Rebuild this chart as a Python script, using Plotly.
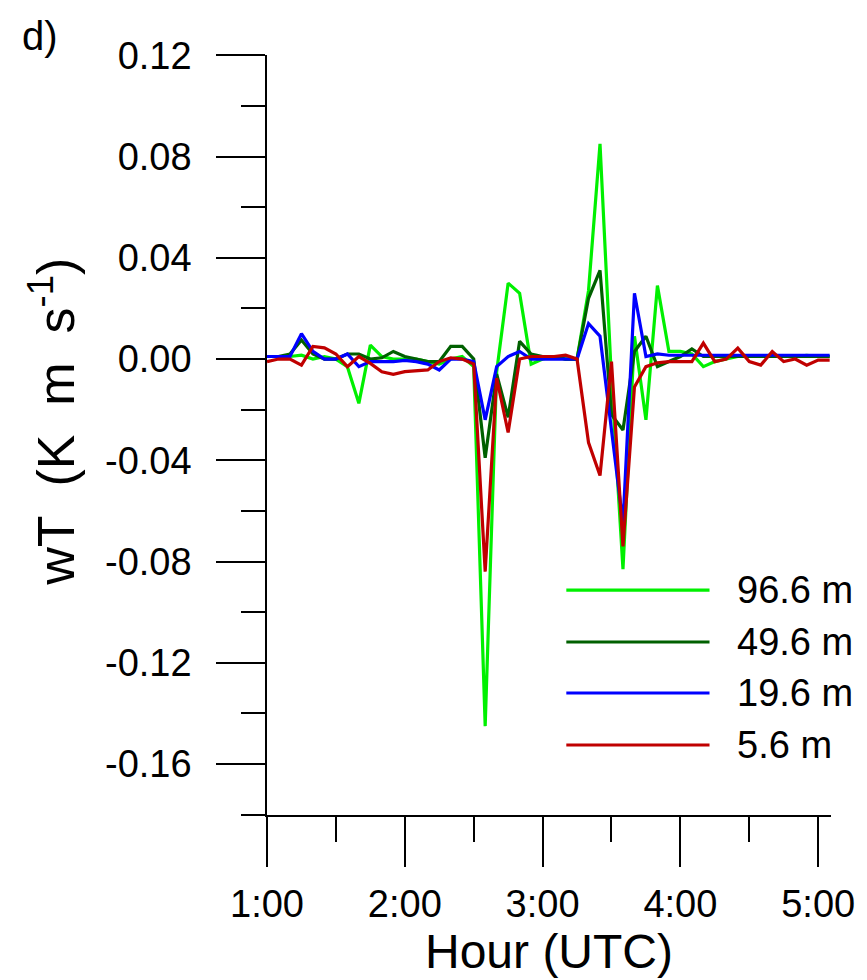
import plotly.graph_objects as go

# time in hours (UTC), 5-minute steps from 1:00 to 5:05
hours = [1 + i * 5 / 60 for i in range(50)]

# wT (K m s-1) at each height
wT_96_6 = [0.001, 0.001, 0.001, 0.0015, 0.000, 0.001, 0.000, -0.003, -0.0175, 0.0055,
           0.001, 0.000, 0.000, 0.000, -0.001, -0.002, 0.000, 0.001, -0.003, -0.145,
           -0.005, 0.030, 0.026, -0.002, 0.000, 0.001, 0.000, 0.000, 0.027, 0.085,
           -0.008, -0.083, 0.009, -0.024, 0.029, 0.003, 0.003, 0.002, -0.003, -0.001,
           0.000, 0.001, 0.001, 0.001, 0.001, 0.001, 0.001, 0.0015, 0.001, 0.001]
wT_49_6 = [0.001, 0.001, 0.002, 0.0075, 0.002, 0.000, 0.000, 0.002, 0.002, 0.000,
           0.0005, 0.003, 0.001, 0.000, -0.001, -0.001, 0.005, 0.005, 0.000, -0.039,
           -0.006, -0.023, 0.007, 0.002, 0.001, 0.001, 0.000, 0.000, 0.024, 0.035,
           -0.022, -0.028, 0.003, 0.009, -0.003, -0.001, 0.001, 0.004, 0.001, 0.001,
           0.001, 0.001, 0.001, 0.001, 0.001, 0.001, 0.001, 0.001, 0.001, 0.001]
wT_19_6 = [0.001, 0.001, 0.001, 0.010, 0.003, 0.000, 0.000, 0.002, -0.003, -0.001,
           -0.001, -0.001, -0.0005, -0.001, -0.002, -0.0043, 0.000, 0.000, -0.001, -0.024,
           -0.003, 0.001, 0.003, 0.000, 0.000, 0.000, 0.000, 0.000, 0.014, 0.009,
           -0.028, -0.065, 0.026, 0.001, 0.002, 0.0015, 0.0015, 0.0015, 0.0015, 0.0015,
           0.0015, 0.0015, 0.0015, 0.0015, 0.0015, 0.0015, 0.0015, 0.0015, 0.0015, 0.0015]
wT_5_6 = [-0.001, 0.000, 0.000, -0.0024, 0.005, 0.0044, 0.002, -0.003, 0.001, -0.0017,
          -0.005, -0.006, -0.005, -0.0045, -0.0043, -0.001, 0.0005, 0.000, -0.002, -0.084,
          -0.0075, -0.029, 0.000, 0.001, 0.001, 0.001, 0.0015, 0.000, -0.033, -0.046,
          -0.001, -0.074, -0.011, -0.003, -0.0015, -0.001, -0.001, -0.001, 0.0063, -0.001,
          0.000, 0.0043, -0.001, -0.0024, 0.003, -0.001, 0.000, -0.0024, -0.0004, -0.0004]

series_names = ["96.6 m", "49.6 m", "19.6 m", "5.6 m"]
series_values = [wT_96_6, wT_49_6, wT_19_6, wT_5_6]
series_colors = ["#00F000", "#006000", "#0000FF", "#C00000"]

x_tickvals = [1, 2, 3, 4, 5]
x_ticktext = ["1:00", "2:00", "3:00", "4:00", "5:00"]
y_tickvals = [0.12, 0.08, 0.04, 0.00, -0.04, -0.08, -0.12, -0.16]
y_ticktext = ["0.12", "0.08", "0.04", "0.00", "-0.04", "-0.08", "-0.12", "-0.16"]

FONT = "Liberation Sans, Arial, sans-serif"

fig = go.Figure()
for name, vals, col in zip(series_names, series_values, series_colors):
    fig.add_trace(go.Scatter(x=hours, y=vals, mode="lines", name=name,
                             line=dict(color=col, width=3.2), showlegend=False))

# custom legend (long sample lines as in the original)
leg_y = [0.296, 0.2276, 0.1605, 0.0921]
for name, col, yy in zip(series_names, series_colors, leg_y):
    fig.add_shape(type="line", xref="paper", yref="paper", x0=0.5307, x1=0.7846,
                  y0=yy, y1=yy, line=dict(color=col, width=3.2))
    fig.add_annotation(xref="paper", yref="paper", x=0.83, y=yy, text=name,
                       showarrow=False, xanchor="left", yanchor="middle",
                       font=dict(family=FONT, size=38, color="black"))

fig.add_annotation(xref="paper", yref="paper", x=-0.403, y=1.025, text="d)",
                   showarrow=False, xanchor="center", yanchor="middle",
                   font=dict(family=FONT, size=40, color="black"))

# y-axis title
fig.add_annotation(xref="paper", yref="paper", x=-0.38, y=0.517, textangle=-90,
                   text="wT&nbsp;&nbsp;(K&nbsp;&nbsp;m&nbsp;&nbsp;s<sup>-1</sup>)",
                   showarrow=False, xanchor="center", yanchor="middle",
                   font=dict(family=FONT, size=52, color="black"))

fig.update_layout(
    width=859, height=972,
    margin=dict(l=259, r=29, t=47, b=165),
    paper_bgcolor="white", plot_bgcolor="white",
    font=dict(family=FONT, size=38, color="black"),
    xaxis=dict(range=[1, 5.093], tickvals=x_tickvals, ticktext=x_ticktext,
               ticks="outside", ticklen=50, tickwidth=1.5, tickcolor="black",
               showline=True, linecolor="black", linewidth=1.5,
               showgrid=False, zeroline=False,
               minor=dict(dtick=0.5, tick0=1, ticks="outside", ticklen=25,
                          tickwidth=1.5, tickcolor="black", showgrid=False),
               tickfont=dict(size=38), ticklabelstandoff=5,
               title=dict(text="Hour (UTC)", font=dict(size=48), standoff=8)),
    yaxis=dict(range=[-0.1801, 0.1201], tickvals=y_tickvals, ticktext=y_ticktext,
               ticks="outside", ticklen=49, tickwidth=1.5, tickcolor="black",
               showline=True, linecolor="black", linewidth=1.5,
               showgrid=False, zeroline=False,
               minor=dict(dtick=0.02, tick0=0, ticks="outside", ticklen=24,
                          tickwidth=1.5, tickcolor="black", showgrid=False),
               tickfont=dict(size=38), ticklabelstandoff=17),
)

fig.write_html("out.html")
